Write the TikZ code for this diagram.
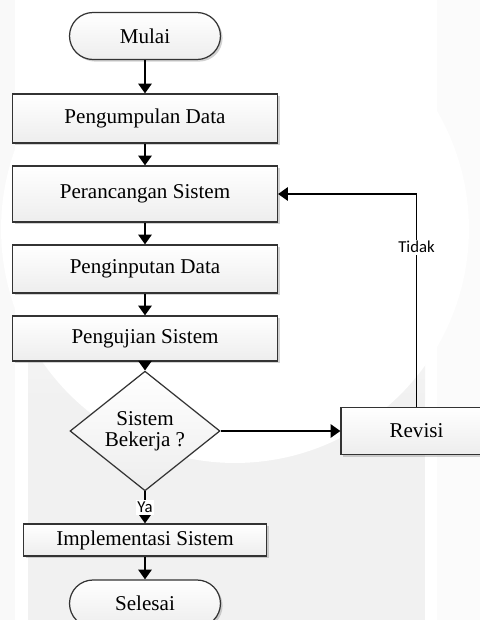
\documentclass[tikz,border=0pt]{standalone}
\usepackage{fontspec}
\setmainfont{Liberation Serif}
\newfontfamily\labelfont{Carlito}
\usetikzlibrary{arrows.meta,shadows,shapes.geometric}

\begin{document}
\begin{tikzpicture}[x=0.02cm, y=-0.02cm,
    every node/.style={font=\fontsize{12}{14}\selectfont},
    proses/.style={draw=black!80, line width=0.7pt, top color=white, bottom color=gray!14,
      drop shadow={shadow xshift=1.2pt, shadow yshift=-1.2pt, opacity=0.35, fill=black!50},
      minimum width=5.3cm, minimum height=0.96cm},
    terminal/.style={proses, rounded corners=0.47cm, minimum width=3.02cm, minimum height=0.94cm},
    keputusan/.style={diamond, draw=black!80, line width=0.7pt, top color=white, bottom color=gray!14,
      inner sep=0pt, minimum width=3cm, minimum height=1.84cm, align=center,
      font=\fontsize{12}{12}\selectfont},
    ket/.style={fill=white, inner sep=1pt, font=\labelfont\fontsize{9.5}{11}\selectfont},
    panah/.style={-{Triangle[length=5.5pt,width=7.5pt]}, line width=1.1pt}]
  \clip (0,0) rectangle (480,620);
  \fill[white] (0,0) rectangle (480,620);
  \fill[gray!5] (0,0) rectangle (15,620);
  \fill[gray!3] (437,0) rectangle (480,620);
  \shade[top color=white, bottom color=gray!11] (28,200) rectangle (425,400);
  \fill[gray!11] (28,399) rectangle (425,620);
  \fill[white] (235,229) circle (4.68cm);

  \node[terminal] (mulai) at (145,36) {Mulai};
  \node[proses, minimum height=0.98cm] (kumpul) at (145,118.5) {Pengumpulan Data};
  \node[proses, minimum height=1.12cm] (rancang) at (145,194) {Perancangan Sistem};
  \node[proses] (input) at (145,269) {Penginputan Data};
  \node[proses, minimum height=0.9cm] (uji) at (145,338.5) {Pengujian Sistem};
  \node[keputusan] (kerja) at (145,431) {Sistem\\Bekerja ?};
  \node[proses, minimum width=3.02cm, minimum height=0.94cm] (revisi) at (416.5,431) {Revisi};
  \node[proses, minimum width=4.86cm, minimum height=0.64cm] (implementasi) at (145,540) {Implementasi Sistem};
  \node[terminal] (selesai) at (145,603.5) {Selesai};

  \draw[panah] (mulai) -- (kumpul);
  \draw[panah] (kumpul) -- (rancang);
  \draw[panah] (rancang) -- (input);
  \draw[panah] (input) -- (uji);
  \draw[panah] (uji) -- (kerja);
  \draw[panah] (kerja) -- (revisi);
  \draw[panah] (kerja) -- node[ket] {Ya} (implementasi);
  \draw[panah] (implementasi) -- (selesai);
  \draw[panah] (revisi) |- node[ket, pos=0.375] {Tidak} (rancang);
\end{tikzpicture}
\end{document}
